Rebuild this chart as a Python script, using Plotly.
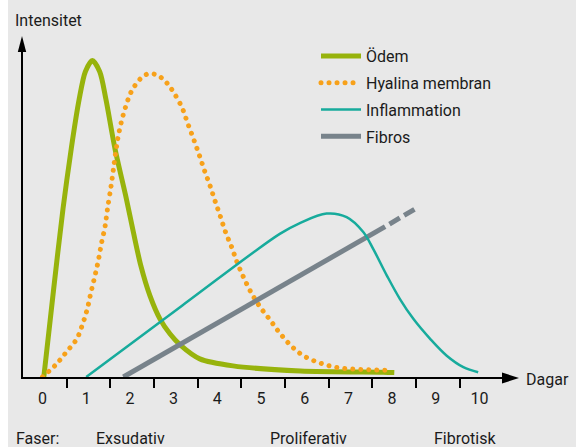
import plotly.graph_objects as go

# ---------------- data ----------------
days_labels = ["0", "1", "2", "3", "4", "5", "6", "7", "8", "9", "10"]
day_ticks = [0, 1, 2, 3, 4, 5, 6, 7, 8, 9, 10]
tick_marks = [0.55, 1.55, 2.55, 3.55, 4.55, 5.55, 6.55, 7.55, 8.55, 9.55]

odem_x = [0.03, 0.25, 0.47, 0.66, 0.84, 0.98, 1.14, 1.31, 1.45, 1.66, 1.92, 2.08,
          2.25, 2.46, 2.69, 2.92, 3.15, 3.6, 4.36, 5.9, 7.8, 8.05]
odem_y = [0.0, 27.0, 53.0, 72.0, 87.4, 96.0, 99.5, 96.0, 87.4, 71.7, 56.0, 45.5,
          35.0, 25.5, 18.2, 13.5, 10.1, 5.7, 3.5, 1.9, 1.5, 1.4]

hyal_x = [0.0, 0.30, 0.55, 0.78, 0.92, 1.03, 1.11, 1.20, 1.28, 1.35, 1.43, 1.48,
          1.57, 1.62, 1.67, 1.73, 1.81, 1.91, 2.05, 2.28, 2.44, 2.63, 2.78, 2.90,
          3.01, 3.19, 3.32, 3.45, 3.58, 3.70, 3.83, 3.95, 4.07, 4.19, 4.33, 4.46,
          4.61, 4.78, 4.98, 5.21, 5.43, 5.69, 5.98, 6.33, 6.69, 7.08, 7.46, 7.84, 8.01]
hyal_y = [0.0, 3.8, 7.9, 11.9, 16.7, 21.7, 26.7, 31.8, 36.8, 42.1, 47.2, 52.2,
          60.1, 65.1, 70.1, 75.5, 80.5, 85.3, 90.2, 94.3, 95.4, 94.9, 93.4, 91.5,
          89.3, 84.8, 79.9, 75.1, 70.1, 65.2, 60.3, 55.3, 50.5, 45.5, 40.8, 35.8,
          31.1, 26.4, 22.0, 17.9, 13.8, 9.8, 6.6, 4.5, 3.1, 2.5, 2.3, 2.1, 2.1]

infl_x = [1.0, 3.2, 5.43, 5.89, 6.5, 6.96, 7.34, 7.57, 7.88, 8.18, 8.49, 8.87, 9.25, 9.63, 9.97]
infl_y = [0.0, 22.5, 45.0, 48.4, 51.4, 50.3, 45.6, 40.2, 31.9, 24.5, 18.2, 12.0, 6.7, 3.1, 1.5]

fib_x = [1.85, 7.84]
fib_y = [0.0, 47.3]
fib_ext_x = [7.94, 8.52]
fib_ext_y = [48.1, 52.8]

phase_names = ["Faser:", "Exsudativ", "Proliferativ", "Fibrotisk"]

# ---------------- styling ----------------
GREEN = "#97b30c"
ORANGE = "#f7a11a"
TEAL = "#17ab9c"
GRAY = "#78838b"
BG = "#e8e8e8"
TXT = "#1b1b1b"
FONT = "Roboto, 'Liberation Sans', sans-serif"

W, H = 580, 447
def fx(p):                  # pixel -> paper fraction
    return p / W
def fy(p):
    return 1 - p / H

# pixel geometry of the plotting frame
X0_PX, X1_PX = 23, 502
Y0_PX, Y1_PX = 377, 50
DAY0_PX, DAY_PX = 42.5, 43.7
UNIT_PX = 3.18

xr = [(X0_PX - DAY0_PX) / DAY_PX, (X1_PX - DAY0_PX) / DAY_PX]
yr = [0, (Y0_PX - Y1_PX) / UNIT_PX]

fig = go.Figure()
fig.add_trace(go.Scatter(x=odem_x, y=odem_y, mode="lines", name="Ödem", legendgroup="a",
                         line=dict(color=GREEN, width=5, shape="spline", smoothing=0.8)))
fig.add_trace(go.Scatter(x=hyal_x, y=hyal_y, mode="lines", name="Hyalina membran", legendgroup="b",
                         line=dict(color=ORANGE, width=5, dash="4px,4px", shape="spline", smoothing=1)))
fig.add_trace(go.Scatter(x=infl_x, y=infl_y, mode="lines", name="Inflammation", legendgroup="c",
                         xaxis="x2",
                         line=dict(color=TEAL, width=2.5, shape="spline", smoothing=1)))
fig.add_trace(go.Scatter(x=fib_x, y=fib_y, mode="lines", name="Fibros", legendgroup="d",
                         line=dict(color=GRAY, width=5)))
fig.add_trace(go.Scatter(x=fib_ext_x, y=fib_ext_y, mode="lines", showlegend=False, legendgroup="d",
                         line=dict(color=GRAY, width=5, dash="12px,5px")))

shapes = [
    dict(type="rect", xref="paper", yref="paper", x0=0, x1=fx(8), y0=0, y1=1,
         fillcolor="white", line=dict(width=0), layer="below"),
    dict(type="rect", xref="paper", yref="paper", x0=fx(576), x1=1, y0=0, y1=1,
         fillcolor="white", line=dict(width=0), layer="below"),
    dict(type="path", xref="paper", yref="paper",
         path=f"M {fx(502)},{fy(372.5)} L {fx(519)},{fy(378)} L {fx(502)},{fy(383.5)} Z",
         fillcolor="black", line=dict(width=0)),
    dict(type="path", xref="paper", yref="paper",
         path=f"M {fx(17.8)},{fy(52)} L {fx(22)},{fy(36)} L {fx(26.2)},{fy(52)} Z",
         fillcolor="black", line=dict(width=0)),
]

ann = [
    dict(text="Intensitet", x=fx(13), y=fy(20)),
    dict(text="Dagar", x=fx(524), y=fy(379)),
]
phase_px = [14, 94, 268, 432]
for name, p in zip(phase_names, phase_px):
    ann.append(dict(text=name, x=fx(p), y=fy(438)))
for a in ann:
    a.update(xref="paper", yref="paper", xanchor="left", yanchor="middle",
             showarrow=False, font=dict(family=FONT, size=16, color=TXT))

fig.update_layout(
    width=W, height=H,
    margin=dict(l=0, r=0, t=0, b=0),
    paper_bgcolor=BG,
    plot_bgcolor="rgba(0,0,0,0)",
    font=dict(family=FONT, size=16, color=TXT),
    shapes=shapes,
    annotations=ann,
    showlegend=True,
    legend=dict(x=fx(316), y=fy(39), xanchor="left", yanchor="top", itemwidth=40,
                bgcolor="rgba(0,0,0,0)", font=dict(family=FONT, size=16, color=TXT),
                tracegroupgap=3),
    xaxis=dict(domain=[fx(X0_PX), fx(X1_PX)], range=xr, showgrid=False, zeroline=False,
               showline=True, linecolor="black", linewidth=2,
               tickmode="array", tickvals=day_ticks, ticktext=days_labels, ticks="",
               ticklabelstandoff=6,
               tickfont=dict(family=FONT, size=16, color=TXT), anchor="y", fixedrange=True),
    xaxis2=dict(overlaying="x", range=xr, showgrid=False, zeroline=False, showline=False,
                tickmode="array", tickvals=tick_marks, ticks="outside", ticklen=10,
                tickwidth=2, tickcolor="black", showticklabels=False, anchor="y", side="bottom",
                fixedrange=True),
    yaxis=dict(domain=[fy(Y0_PX), fy(Y1_PX)], range=yr, showgrid=False, zeroline=False,
               showline=True, linecolor="black", linewidth=2, showticklabels=False, ticks="",
               fixedrange=True),
)

# no page margin around the figure; round dots for the dotted series
post = """
document.body.style.margin = '0';
var gd = document.getElementById('{plot_id}');
function roundDots() {
  gd.querySelectorAll('path.js-line').forEach(function (p) {
    if ((p.style.strokeDasharray || '').replace(/\\s/g, '') === '4px,4px') {
      p.style.strokeLinecap = 'round';
      p.style.strokeDasharray = '0.01px,8px';
    }
  });
}
roundDots();
if (gd.on) { gd.on('plotly_afterplot', roundDots); }
"""

fig.write_html("out.html", post_script=post,
               config={"displayModeBar": False, "staticPlot": False})
